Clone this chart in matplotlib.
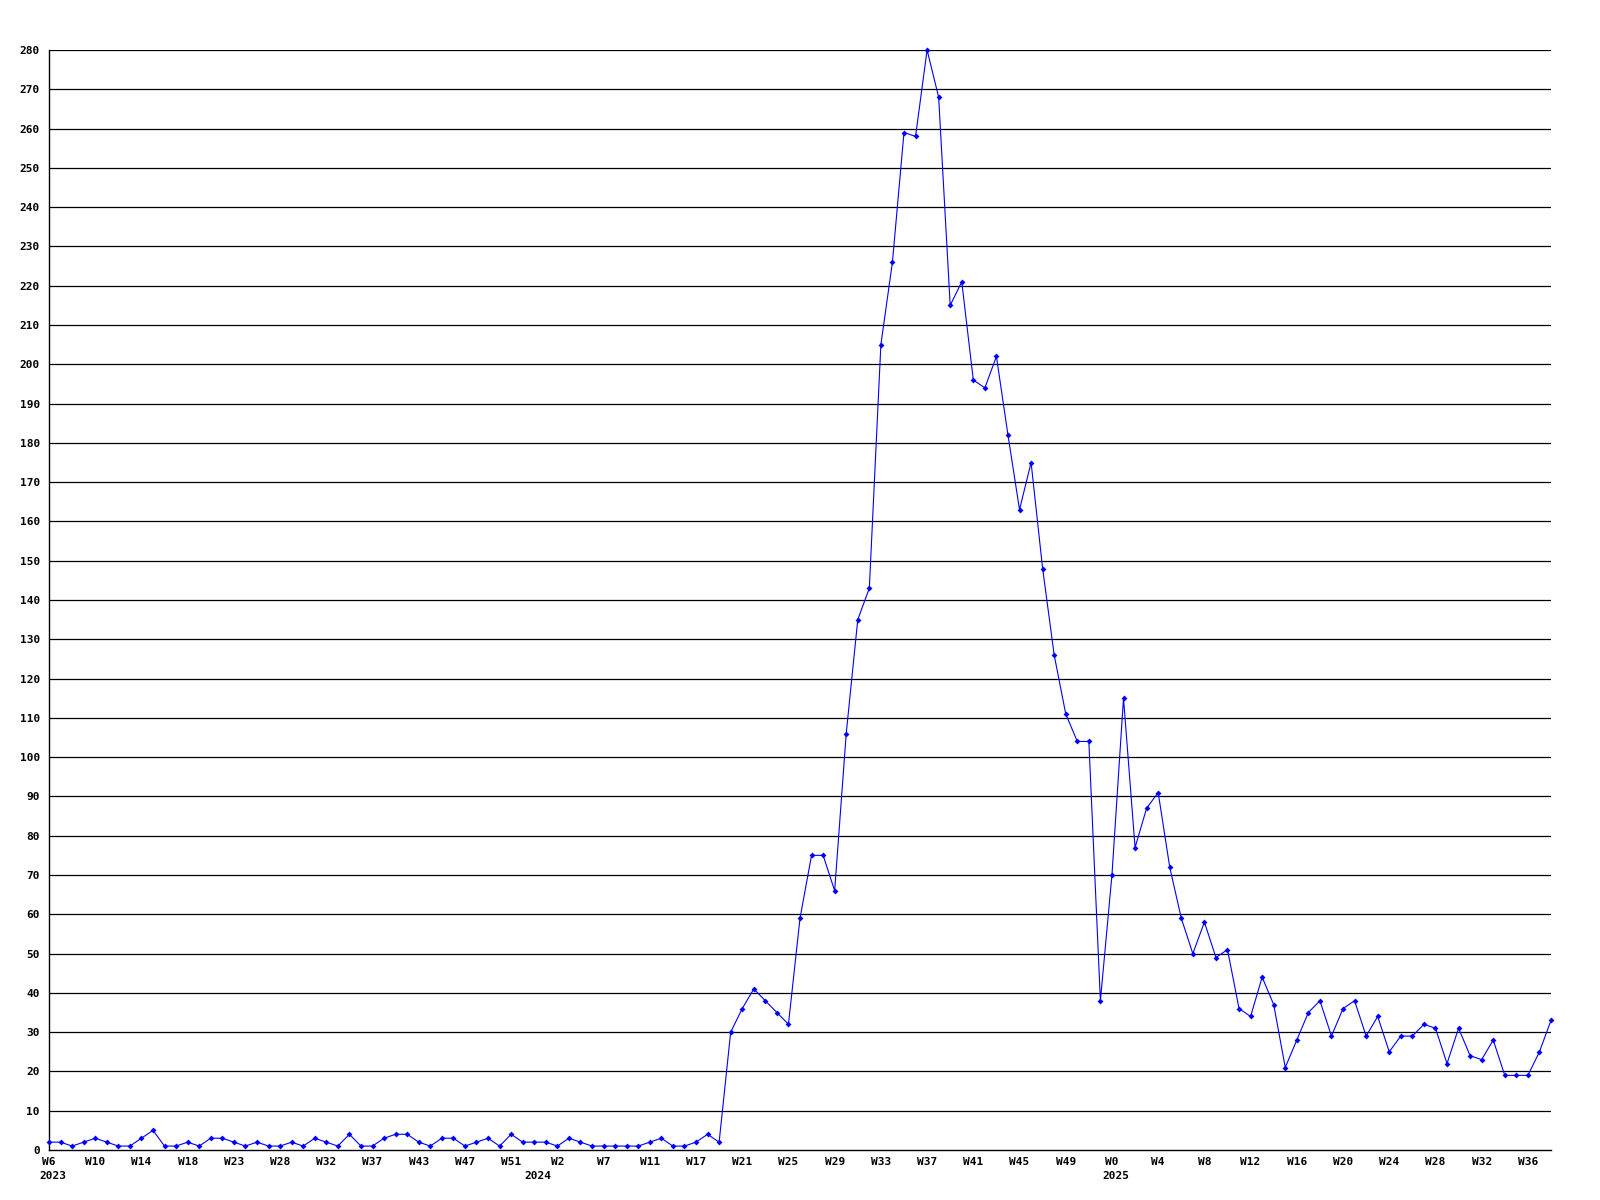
import matplotlib
matplotlib.use("Agg")
import matplotlib.pyplot as plt

# ---- data ----
values = [
    2, 2, 1, 2, 3, 2, 1, 1, 3, 5,
    1, 1, 2, 1, 3, 3, 2, 1, 2, 1,
    1, 2, 1, 3, 2, 1, 4, 1, 1, 3,
    4, 4, 2, 1, 3, 3, 1, 2, 3, 1,
    4, 2, 2, 2, 1, 3, 2, 1, 1, 1,
    1, 1, 2, 3, 1, 1, 2, 4, 2, 30,
    36, 41, 38, 35, 32, 59, 75, 75, 66, 106,
    135, 143, 205, 226, 259, 258, 280, 268, 215, 221,
    196, 194, 202, 182, 163, 175, 148, 126, 111, 104,
    104, 38, 70, 115, 77, 87, 91, 72, 59, 50,
    58, 49, 51, 36, 34, 44, 37, 21, 28, 35,
    38, 29, 36, 38, 29, 34, 25, 29, 29, 32,
    31, 22, 31, 24, 23, 28, 19, 19, 19, 25,
    33,
]

week_labels = [
    "W6", "W10", "W14", "W18", "W23", "W28", "W32", "W37", "W43", "W47", "W51",
    "W2", "W7", "W11", "W17", "W21", "W25", "W29", "W33", "W37", "W41", "W45", "W49",
    "W0", "W4", "W8", "W12", "W16", "W20", "W24", "W28", "W32", "W36",
]
label_step = 4

years = ["2023", "2024", "2025"]
year_start_index = [0, 42, 92]

y_ticks = list(range(0, 281, 10))

# ---- figure ----
W, H = 1600, 1200
fig = plt.figure(figsize=(W / 100, H / 100), dpi=100)
fig.patch.set_facecolor("white")
left, right, bottom, top = 49, 1551, 1150, 50
ax = fig.add_axes([left / W, (H - bottom) / H, (right - left) / W, (bottom - top) / H])

x = list(range(len(values)))
ax.set_xlim(0, len(values) - 1)
ax.set_ylim(0, 280)

for yv in y_ticks[1:]:
    ax.axhline(yv, color="black", lw=0.9, zorder=1)

ax.plot(x, values, color="#0000ff", lw=0.8, marker="D", markersize=3.0,
        markeredgewidth=0, zorder=3, clip_on=False)

font = dict(family="DejaVu Sans Mono", weight="bold", size=8)

ax.set_yticks(y_ticks)
ax.set_yticklabels([str(v) for v in y_ticks], **font)
tick_pos = [i * label_step for i in range(len(week_labels))]
ax.set_xticks(tick_pos)
ax.set_xticklabels(week_labels, **font)
ax.tick_params(axis="y", length=0, pad=6.5)
ax.tick_params(axis="x", length=0, pad=5)

for yr, idx in zip(years, year_start_index):
    ax.annotate(yr, xy=(idx - 0.85, 0), xycoords=("data", "axes fraction"),
                xytext=(0, -26), textcoords="offset pixels",
                ha="left", va="center", **font)

for s in ["top", "right"]:
    ax.spines[s].set_visible(False)
for s in ["left", "bottom"]:
    ax.spines[s].set_color("black")
    ax.spines[s].set_linewidth(1.0)

fig.savefig("out.png", dpi=100, facecolor="white")
